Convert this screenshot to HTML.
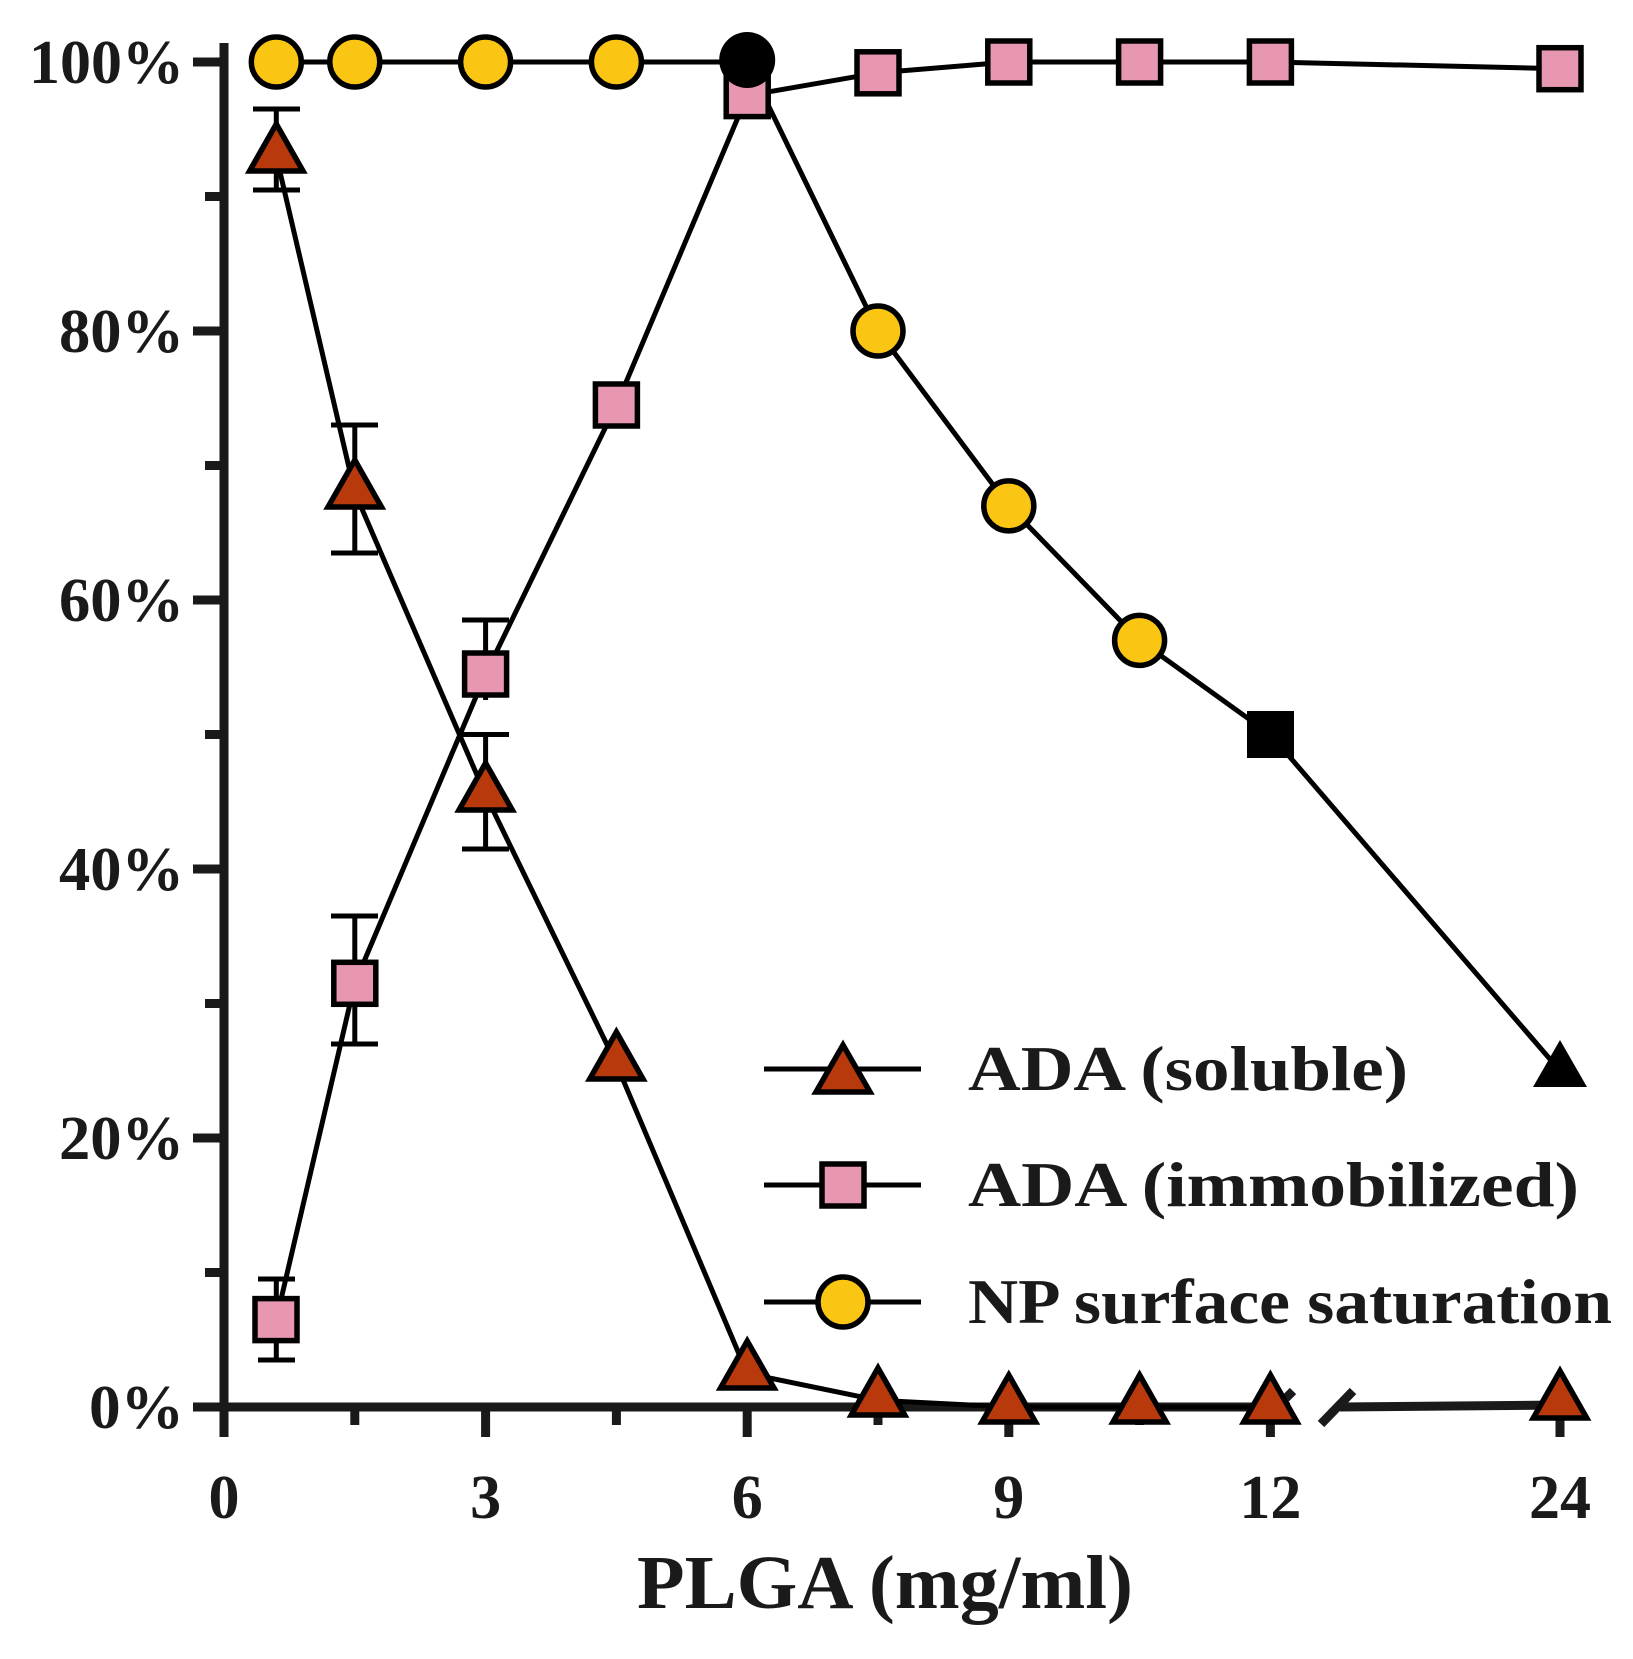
<!DOCTYPE html>
<html><head><meta charset="utf-8"><style>
html,body{margin:0;padding:0;background:#fff;}
svg{display:block;}
text{font-family:"Liberation Serif",serif;font-weight:bold;fill:#1a1a1a;}
</style></head><body>
<svg width="1633" height="1659" viewBox="0 0 1633 1659" xmlns="http://www.w3.org/2000/svg">
<g stroke="#1a1a1a" stroke-width="9" fill="none">
<line x1="224" y1="43" x2="224" y2="1437"/>
<line x1="193" y1="1407" x2="1290" y2="1407"/>
<line x1="193" y1="62" x2="224" y2="62"/>
<line x1="205" y1="196.5" x2="224" y2="196.5"/>
<line x1="193" y1="331" x2="224" y2="331"/>
<line x1="205" y1="465.5" x2="224" y2="465.5"/>
<line x1="193" y1="600" x2="224" y2="600"/>
<line x1="205" y1="734.5" x2="224" y2="734.5"/>
<line x1="193" y1="869" x2="224" y2="869"/>
<line x1="205" y1="1003.5" x2="224" y2="1003.5"/>
<line x1="193" y1="1138" x2="224" y2="1138"/>
<line x1="205" y1="1272.5" x2="224" y2="1272.5"/>
<line x1="354.8" y1="1407" x2="354.8" y2="1425"/>
<line x1="485.6" y1="1407" x2="485.6" y2="1437"/>
<line x1="616.4" y1="1407" x2="616.4" y2="1425"/>
<line x1="747.2" y1="1407" x2="747.2" y2="1437"/>
<line x1="878" y1="1407" x2="878" y2="1425"/>
<line x1="1008.8" y1="1407" x2="1008.8" y2="1437"/>
<line x1="1139.6" y1="1407" x2="1139.6" y2="1425"/>
<line x1="1270.4" y1="1407" x2="1270.4" y2="1437"/>
<line x1="1560" y1="1407" x2="1560" y2="1437"/>
<line x1="1284" y1="1400" x2="1293" y2="1391"/>
<line x1="1321" y1="1424" x2="1353" y2="1391"/>
<line x1="1340" y1="1407" x2="1560" y2="1405"/>
</g>
<g font-size="62" text-anchor="end">
<text x="184" y="83" textLength="155" lengthAdjust="spacingAndGlyphs">100%</text>
<text x="184" y="352" textLength="125" lengthAdjust="spacingAndGlyphs">80%</text>
<text x="184" y="621" textLength="125" lengthAdjust="spacingAndGlyphs">60%</text>
<text x="184" y="890" textLength="125" lengthAdjust="spacingAndGlyphs">40%</text>
<text x="184" y="1159" textLength="125" lengthAdjust="spacingAndGlyphs">20%</text>
<text x="184" y="1428" textLength="95" lengthAdjust="spacingAndGlyphs">0%</text>
</g>
<g font-size="62" text-anchor="middle">
<text x="224" y="1518">0</text>
<text x="485.6" y="1518">3</text>
<text x="747.2" y="1518">6</text>
<text x="1008.8" y="1518">9</text>
<text x="1270.4" y="1518">12</text>
<text x="1560" y="1518">24</text>
</g>
<text x="637" y="1608" font-size="76" textLength="496" lengthAdjust="spacingAndGlyphs">PLGA (mg/ml)</text>
<g stroke="#000" stroke-width="5" fill="none">
<polyline points="276.3,156.2 354.8,492.4 485.6,795 616.4,1064 747.2,1373.4 878,1400.3 1008.8,1407 1139.6,1407 1270.4,1407"/>
<polyline points="276.3,1319.6 354.8,983.3 485.6,674 616.4,405 747.2,95.6 878,72.8 1008.8,62 1139.6,62 1270.4,62 1560,68.7"/>
<polyline points="276.3,62 747.2,62 878,331 1008.8,505.9 1139.6,640.4 1270.4,734.5 1560,1070.8"/>
<line x1="276.3" y1="109" x2="276.3" y2="190"/><line x1="253" y1="109" x2="300" y2="109"/><line x1="253" y1="190" x2="300" y2="190"/>
<line x1="354.8" y1="425" x2="354.8" y2="553"/><line x1="331" y1="425" x2="378" y2="425"/><line x1="331" y1="553" x2="378" y2="553"/>
<line x1="485.6" y1="734.5" x2="485.6" y2="849"/><line x1="462" y1="734.5" x2="509" y2="734.5"/><line x1="462" y1="849" x2="509" y2="849"/>
<line x1="276.3" y1="1279" x2="276.3" y2="1360"/><line x1="258" y1="1279" x2="295" y2="1279"/><line x1="258" y1="1360" x2="295" y2="1360"/>
<line x1="354.8" y1="916" x2="354.8" y2="1044"/><line x1="331" y1="916" x2="378" y2="916"/><line x1="331" y1="1044" x2="378" y2="1044"/>
<line x1="485.6" y1="620" x2="485.6" y2="700"/><line x1="462" y1="620" x2="509" y2="620"/>
</g>
<g fill="#b83a0c" stroke="#000" stroke-width="5.5">
<polygon points="276.3,124 303,171 249.6,171"/>
<polygon points="354.8,460 381.5,507 328,507"/>
<polygon points="485.6,763 512.3,810 459,810"/>
<polygon points="616.4,1032 643,1079 589.7,1079"/>
<polygon points="747.2,1341 774,1388 720.5,1388"/>
<polygon points="878,1368 904.7,1415 851.3,1415"/>
<polygon points="1008.8,1375 1035.5,1422 982,1422"/>
<polygon points="1139.6,1375 1166.3,1422 1113,1422"/>
<polygon points="1270.4,1375 1297,1422 1243.7,1422"/>
<polygon points="1560,1371 1586.7,1418 1533.3,1418"/>
</g>
<polygon points="1560,1040 1587,1087 1533,1087" fill="#000"/>
<g fill="#e897b0" stroke="#000" stroke-width="5.5">
<rect x="255" y="1298.6" width="42" height="42"/>
<rect x="333.8" y="962.3" width="42" height="42"/>
<rect x="464.6" y="653" width="42" height="42"/>
<rect x="595.4" y="384" width="42" height="42"/>
<rect x="726.2" y="74.6" width="42" height="42"/>
<rect x="857" y="51.8" width="42" height="42"/>
<rect x="987.8" y="41" width="42" height="42"/>
<rect x="1118.6" y="41" width="42" height="42"/>
<rect x="1249.4" y="41" width="42" height="42"/>
<rect x="1539" y="47.7" width="42" height="42"/>
</g>
<rect x="1247" y="711" width="47" height="47" fill="#000"/>
<g fill="#fbc513" stroke="#000" stroke-width="5.5">
<circle cx="276.3" cy="62" r="25"/>
<circle cx="354.8" cy="62" r="25"/>
<circle cx="485.6" cy="62" r="25"/>
<circle cx="616.4" cy="62" r="25"/>
<circle cx="878" cy="331" r="25"/>
<circle cx="1008.8" cy="505.9" r="25"/>
<circle cx="1139.6" cy="640.4" r="25"/>
</g>
<circle cx="747.2" cy="60" r="28" fill="#000"/>
<g stroke="#000" stroke-width="5">
<line x1="764" y1="1069" x2="921" y2="1069"/>
<line x1="764" y1="1185" x2="921" y2="1185"/>
<line x1="764" y1="1302" x2="921" y2="1302"/>
</g>
<polygon points="843,1045 870,1092 816,1092" fill="#b83a0c" stroke="#000" stroke-width="5.5"/>
<rect x="822" y="1164" width="42" height="42" fill="#e897b0" stroke="#000" stroke-width="5.5"/>
<circle cx="843" cy="1302" r="25" fill="#fbc513" stroke="#000" stroke-width="5.5"/>
<g font-size="64">
<text x="968" y="1090" textLength="440" lengthAdjust="spacingAndGlyphs">ADA (soluble)</text>
<text x="968" y="1206" textLength="611" lengthAdjust="spacingAndGlyphs">ADA (immobilized)</text>
<text x="968" y="1323" textLength="644" lengthAdjust="spacingAndGlyphs">NP surface saturation</text>
</g>
</svg>
</body></html>
